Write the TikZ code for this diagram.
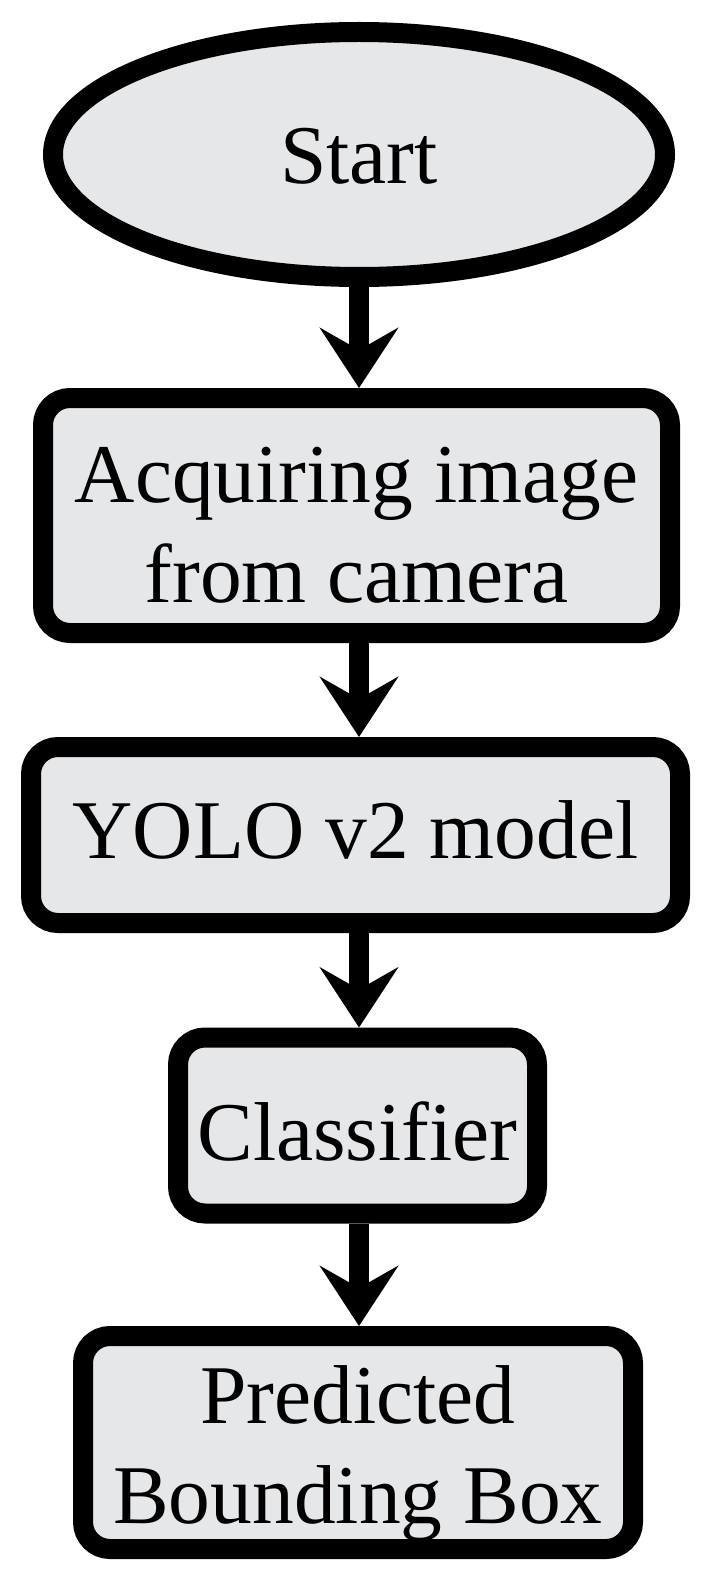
\documentclass[tikz,border=0pt]{standalone}
\usepackage{fontspec}
\setmainfont{Liberation Serif}
\usetikzlibrary{shapes.geometric,arrows.meta}
\definecolor{boxfill}{RGB}{230,231,233}
\tikzset{
  base/.style={draw=black, line width=20pt, fill=boxfill, inner sep=0pt, align=center,
    text depth=0pt, font=\fontsize{83.5}{100}\selectfont},
  startnode/.style={base, ellipse},
  procbox/.style={base, rectangle, rounded corners=27pt},
  flow/.style={line width=20pt, -{Stealth[length=60pt,width=78pt,inset=22pt]}}
}
\begin{document}
\begin{tikzpicture}[x=1pt,y=-1pt]
\useasboundingbox[fill=white] (0,0) rectangle (717,1586);
\node[startnode, minimum width=612pt, minimum height=245pt, text height=59pt] (start) at (359,154.5) {Start};
\node[procbox, minimum width=627pt, minimum height=235pt, text height=173pt] (acq) at (356.5,515.5) {Acquiring image\\from camera};
\node[procbox, minimum width=649pt, minimum height=176pt, text height=46pt] (yolo) at (355.5,835) {YOLO v2 model};
\node[procbox, minimum width=359pt, minimum height=176pt, text height=70pt] (cls) at (357.5,1125.5) {Classifier};
\node[procbox, minimum width=550pt, minimum height=213pt, text height=161pt] (pbb) at (358,1442.5) {Predicted\\Bounding Box};
\draw[flow] (start.south) -- (start.south |- acq.north);
\draw[flow] (start.south |- acq.south) -- (start.south |- yolo.north);
\draw[flow] (start.south |- yolo.south) -- (start.south |- cls.north);
\draw[flow] (start.south |- cls.south) -- (start.south |- pbb.north);
\end{tikzpicture}
\end{document}
